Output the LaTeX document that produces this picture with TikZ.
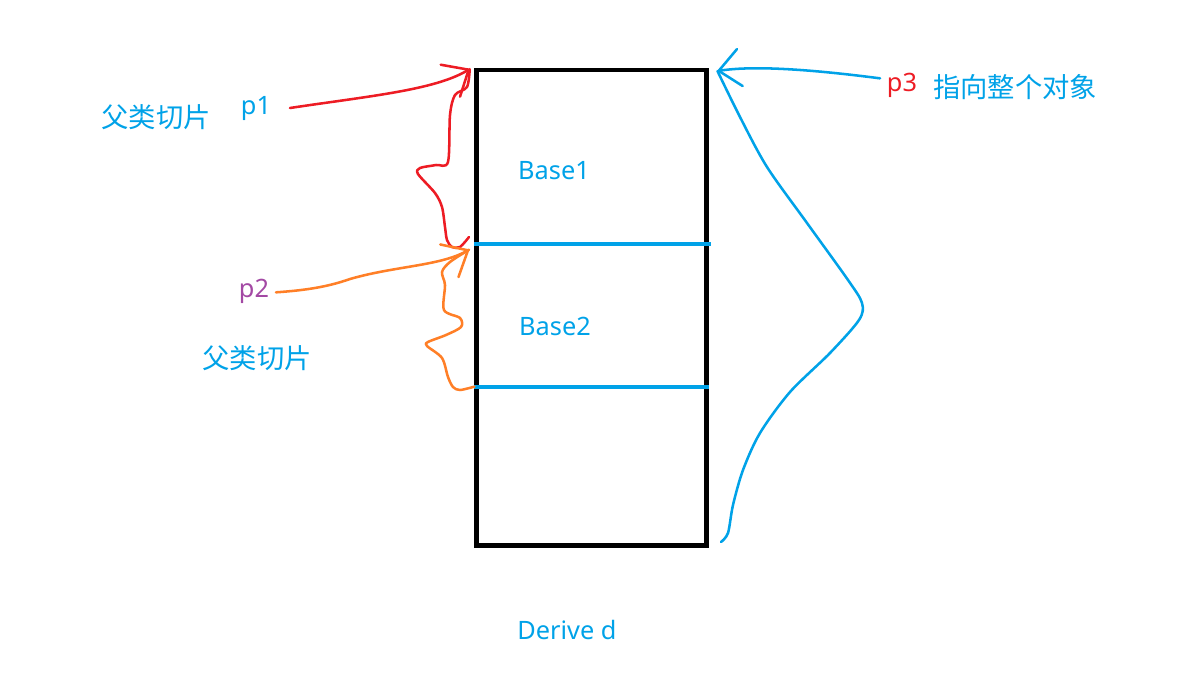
\documentclass[tikz,border=0pt]{standalone}
\usepackage{fontspec}
\setmainfont{Noto Sans}
\newfontfamily\cjk{Noto Sans CJK SC}
\usetikzlibrary{arrows.meta}
\definecolor{penred}{RGB}{237,28,36}
\definecolor{penblue}{RGB}{0,162,232}
\definecolor{penorange}{RGB}{255,127,39}
\definecolor{penpurple}{RGB}{163,73,164}
\tikzset{
  %% ---- texts ----
  txt/.style     = {font=\fontsize{19}{22}\selectfont, text=#1, inner sep=0pt},
  txt/.default   = penblue,
  cntxt/.style   = {txt=#1, font=\fontsize{20.5}{24}\selectfont\cjk},
  cntxt/.default = penblue,
  %% ---- object ----
  objbox/.style  = {rectangle, draw=black, line width=3.4pt,
                    minimum width=172.4pt, minimum height=356.6pt, inner sep=0pt},
  divider/.style = {draw=penblue, line width=3pt},
  %% ---- pen strokes ----
  pen/.style      = {draw=#1, line width=1.9pt, line cap=round, line join=round},
  penarrow/.style = {pen=#1, -{Straight Barb[length=16pt, width=28pt, round]}},
}
\begin{document}
\begin{tikzpicture}[x=0.75pt, y=-0.75pt]
  \useasboundingbox (0,0) rectangle (1179,674);

  \node[objbox] (obj) at (591.6,307.7) {};
  \draw[divider] ([yshift=-132pt]obj.north west) coordinate (cut1)
              -- ([yshift=-132pt,xshift=2pt]obj.north east);
  \draw[divider] ([yshift=-239.2pt]obj.north west) coordinate (cut2)
              -- ([yshift=-239.2pt]obj.north east);

  \node[txt] (base1)  at (554,171) {Base1};
  \node[txt] (base2)  at (555,326) {Base2};
  \node[txt] (derive) at (567,630) {Derive d};

  \node[txt] (p1)            at (256,108) {p1};
  \node[cntxt] (slice1)      at (156,117) {父类切片};
  \node[txt=penpurple] (p2)  at (254,291) {p2};
  \node[cntxt] (slice2)      at (257,358) {父类切片};
  \node[txt=penred] (p3)     at (902,85)  {p3};
  \node[cntxt] (whole)       at (1015,87) {指向整个对象};

  \coordinate (tip1) at ([xshift=-3.5pt,yshift=-1pt]obj.north west);
  \coordinate (tip2) at ([xshift=-4pt,yshift=-4.5pt]cut1);
  \coordinate (tip3) at ([xshift=6.5pt,yshift=-2.5pt]obj.north east);

  %% p1 -> first slice
  \draw[penarrow=penred] ([xshift=14pt]p1.east)
    .. controls (370,96) and (435,90) .. (tip1);
  \draw[pen=penred] plot[smooth, tension=0.5] coordinates {(tip1) (467,87)
    (455,95) (450,115) (448,162) (436,165) (420,168) (418,174) (435,193)
    (442,207) (445,227) (447,240) (452,247) (460,247) (469,237)};

  %% p2 -> second slice
  \draw[penarrow=penorange] ([xshift=5pt,yshift=-1pt]p2.east)
    .. controls (310,290) and (330,286) .. (350,279)
    .. controls (395,266) and (440,266) .. (tip2);
  \draw[pen=penorange] plot[smooth, tension=0.5] coordinates {(tip2) (450,262)
    (442,272) (445,285) (444,310) (460,318) (461,327) (446,335) (428,342)
    (427,346) (442,358) (448,377) (453,387) (460,390) (cut2)};

  %% p3 -> whole object
  \draw[penarrow=penblue] ([xshift=-5pt,yshift=5pt]p3.west)
    .. controls (800,68) and (750,66) .. (tip3);
  \draw[pen=penblue] plot[smooth, tension=0.5] coordinates {(tip3) (740,117)
    (767,167) (807,223) (848,280) (862,303) (859,320) (830,353) (790,392)
    (760,433) (743,470) (733,505) (728,533) (721,542)};
\end{tikzpicture}
\end{document}
